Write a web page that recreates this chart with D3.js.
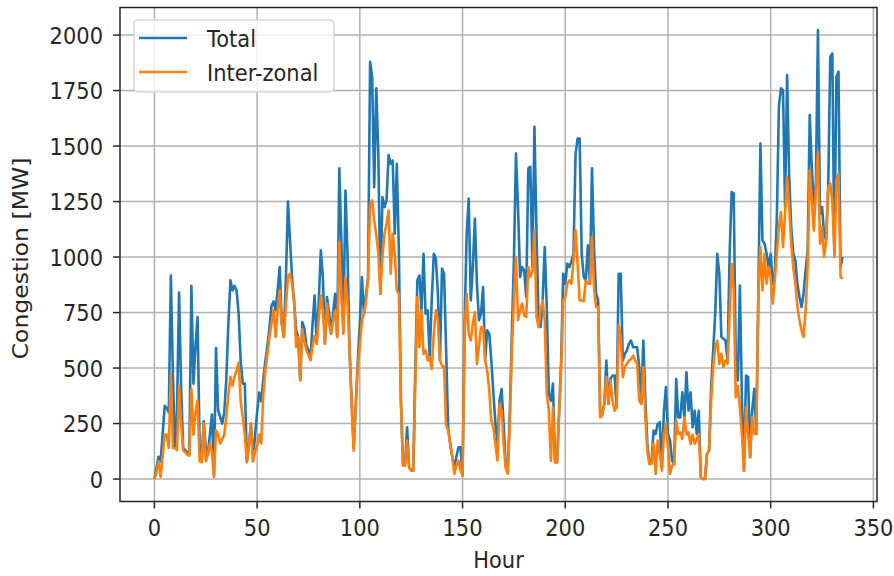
<!DOCTYPE html>
<html>
<head>
<meta charset="utf-8">
<script src="https://cdn.jsdelivr.net/npm/d3@7"></script>
<style>
  body { margin: 0; background: #fff; }
  svg text { font-family: "DejaVu Sans", sans-serif; font-size: 21px; fill: #262626; }
</style>
</head>
<body>
<svg id="chart"></svg>
<script>
// hourly congestion, 14 days (hour 0..335)
const total = [
    0, 50, 100, 80, 200, 330, 320, 300, 917, 470,
    140, 300, 840, 410, 140, 130, 120, 110, 870, 430,
    600, 730, 160, 80, 260, 140, 110, 200, 290, 20,
    590, 310, 280, 250, 300, 450, 700, 895, 850, 870,
    850, 745, 530, 430, 430, 80, 150, 250, 80, 200,
    300, 390, 350, 450, 530, 600, 680, 780, 800, 760,
    850, 955, 700, 640, 900, 1250, 1075, 910, 800, 670,
    640, 445, 707, 677, 600, 580, 540, 700, 827, 610,
    800, 1030, 910, 610, 820, 752, 655, 750, 835, 640,
    1400, 1075, 670, 1300, 1015, 580, 350, 140, 330, 530,
    700, 910, 745, 830, 910, 1880, 1810, 1315, 1760, 1465,
    835, 1270, 1225, 1255, 1460, 1420, 1435, 1105, 1420, 1030,
    353, 68, 68, 233, 53, 38, 38, 504, 895, 917,
    760, 1015, 745, 760, 550, 805, 1015, 993, 835, 534,
    948, 925, 580, 233, 158, 100, 53, 100, 143, 143,
    15, 700, 1105, 1263, 805, 955, 1173, 880, 715, 745,
    865, 534, 670, 655, 534, 390, 250, 158, 353, 405,
    250, 60, 30, 300, 655, 985, 1466, 1225, 910, 955,
    940, 820, 1400, 1406, 955, 1587, 1105, 730, 685, 805,
    1045, 775, 384, 353, 430, 83, 75, 300, 534, 925,
    880, 970, 955, 980, 1015, 1460, 1534, 1534, 1015, 910,
    895, 1053, 880, 1400, 1045, 835, 805, 286, 293, 338,
    534, 338, 451, 466, 466, 323, 925, 925, 534, 564,
    580, 610, 624, 594, 594, 594, 504, 338, 624, 353,
    150, 68, 83, 218, 203, 248, 256, 53, 300, 414,
    203, 173, 83, 68, 451, 278, 278, 391, 278, 481,
    308, 391, 233, 308, 203, 308, 8, 0, 0, 113,
    128, 414, 580, 745, 1015, 925, 640, 632, 624, 534,
    1015, 1293, 1286, 534, 444, 872, 353, 38, 466, 459,
    98, 308, 406, 203, 835, 1511, 1075, 1060, 1015, 955,
    1015, 880, 925, 1180, 1677, 1760, 1752, 1225, 1820, 1361,
    1135, 1015, 985, 880, 820, 775, 835, 940, 1030, 1640,
    1406, 1240, 1331, 2023, 1195, 1225, 1105, 1075, 1316, 1902,
    1917, 1015, 1812, 1835, 955, 1000
];

const interZonal = [
    0, 30, 80, 10, 100, 200, 200, 140, 475, 140,
    140, 130, 420, 250, 130, 120, 110, 105, 405, 200,
    300, 355, 80, 75, 250, 80, 110, 160, 120, 10,
    220, 200, 160, 180, 200, 280, 380, 460, 420, 460,
    490, 525, 350, 280, 200, 75, 150, 250, 80, 120,
    150, 200, 160, 380, 490, 560, 640, 700, 760, 640,
    760, 850, 700, 640, 780, 910, 925, 880, 800, 595,
    640, 445, 677, 620, 580, 560, 535, 600, 645, 610,
    720, 827, 760, 610, 790, 700, 655, 715, 760, 640,
    1068, 820, 655, 910, 800, 580, 350, 128, 330, 505,
    600, 715, 745, 800, 900, 1240, 1255, 1165, 1100, 1015,
    835, 1000, 1105, 1150, 1210, 925, 1105, 1015, 850, 835,
    353, 60, 60, 173, 53, 38, 38, 430, 820, 594,
    760, 564, 580, 534, 550, 496, 655, 760, 715, 534,
    511, 504, 240, 220, 158, 100, 23, 60, 83, 40,
    15, 655, 835, 655, 624, 700, 752, 519, 600, 684,
    684, 534, 489, 400, 263, 233, 158, 83, 338, 308,
    158, 50, 23, 250, 580, 805, 1000, 715, 760, 790,
    737, 730, 955, 910, 940, 1120, 730, 684, 760, 805,
    715, 384, 308, 83, 323, 75, 75, 300, 500, 805,
    820, 880, 895, 880, 985, 1120, 970, 805, 805, 800,
    895, 880, 880, 1090, 865, 775, 775, 278, 286, 338,
    459, 338, 444, 353, 308, 323, 692, 640, 459, 504,
    519, 534, 540, 556, 534, 519, 353, 338, 504, 278,
    120, 68, 68, 158, 23, 173, 113, 38, 200, 248,
    143, 23, 60, 68, 263, 203, 210, 180, 278, 200,
    210, 158, 200, 158, 180, 203, 8, 0, 0, 113,
    128, 353, 504, 594, 624, 519, 564, 504, 534, 520,
    745, 970, 850, 368, 420, 323, 200, 38, 323, 203,
    98, 278, 203, 203, 835, 1045, 850, 1015, 880, 955,
    910, 790, 900, 1015, 1135, 1203, 1045, 1195, 1361, 1225,
    1060, 955, 880, 775, 715, 670, 640, 760, 955, 1391,
    1255, 1120, 1301, 1474, 1060, 1135, 1000, 1075, 1316, 1331,
    1255, 1000, 1346, 1376, 910, 902
];

const hours = total.map((d, i) => i);
const xTicks = [0, 50, 100, 150, 200, 250, 300, 350];
const yTicks = [0, 250, 500, 750, 1000, 1250, 1500, 1750, 2000];
const seriesNames = ["Total", "Inter-zonal"];

const W = 894, H = 576;
const margin = { top: 7.5, right: 17, bottom: 74.5, left: 120 },
      width = W - margin.left - margin.right,
      height = H - margin.top - margin.bottom;

// glyphs in the figure are a little taller than wide
const SY = 1.12;

const svg = d3.select("#chart")
    .attr("width", W)
    .attr("height", H);

const g = svg.append("g")
    .attr("transform", `translate(${margin.left},${margin.top})`);

// matplotlib-style 5% padding around the data
const xPad = 0.05 * (d3.max(hours) - d3.min(hours));
const x = d3.scaleLinear()
    .domain([d3.min(hours) - xPad, d3.max(hours) + xPad])
    .range([0, width]);

const yMin = Math.min(d3.min(total), d3.min(interZonal));
const yMax = Math.max(d3.max(total), d3.max(interZonal));
const yPad = 0.05 * (yMax - yMin);
const y = d3.scaleLinear()
    .domain([yMin - yPad, yMax + yPad])
    .range([height, 0]);

function label(parent, px, py, str, anchor, rotate) {
    return parent.append("text")
        .attr("transform", `translate(${px},${py}) scale(1,${SY})` + (rotate ? " rotate(-90)" : ""))
        .attr("text-anchor", anchor)
        .text(str);
}

// grid
g.append("g").selectAll("line")
    .data(xTicks)
    .join("line")
    .attr("x1", d => x(d)).attr("x2", d => x(d))
    .attr("y1", 0).attr("y2", height)
    .style("stroke", "#b0b0b0")
    .style("stroke-width", 1.5);

g.append("g").selectAll("line")
    .data(yTicks)
    .join("line")
    .attr("x1", 0).attr("x2", width)
    .attr("y1", d => y(d)).attr("y2", d => y(d))
    .style("stroke", "#b0b0b0")
    .style("stroke-width", 1.5);

// series
const line = d3.line()
    .x((d, i) => x(hours[i]))
    .y(d => y(d));

g.append("path")
    .datum(total)
    .attr("d", line)
    .style("fill", "none")
    .style("stroke", "#1f77b4")
    .style("stroke-width", 2.6)
    .style("stroke-linejoin", "round");

g.append("path")
    .datum(interZonal)
    .attr("d", line)
    .style("fill", "none")
    .style("stroke", "#ff7f0e")
    .style("stroke-width", 2.6)
    .style("stroke-linejoin", "round");

// frame
g.append("rect")
    .attr("width", width)
    .attr("height", height)
    .style("fill", "none")
    .style("stroke", "#262626")
    .style("stroke-width", 1.5);

// ticks + labels
g.append("g").selectAll("line")
    .data(xTicks)
    .join("line")
    .attr("x1", d => x(d)).attr("x2", d => x(d))
    .attr("y1", height).attr("y2", height + 7)
    .style("stroke", "#262626")
    .style("stroke-width", 1.5);

xTicks.forEach(t => label(g, x(t), height + 34.5, t, "middle"));

g.append("g").selectAll("line")
    .data(yTicks)
    .join("line")
    .attr("x1", -7).attr("x2", 0)
    .attr("y1", d => y(d)).attr("y2", d => y(d))
    .style("stroke", "#262626")
    .style("stroke-width", 1.5);

yTicks.forEach(t => label(g, -17, y(t) + 8.6, t, "end"));

// axis titles
label(g, width / 2, height + 66, "Hour", "middle");
label(g, -92, height / 2 + 4, "Congestion [MW]", "middle", true);

// legend
const legend = svg.append("g")
    .attr("transform", "translate(134,20)");

legend.append("rect")
    .attr("width", 200)
    .attr("height", 72)
    .attr("rx", 4)
    .style("fill", "#fff")
    .style("fill-opacity", 0.8)
    .style("stroke", "#d6d6d6")
    .style("stroke-width", 1.5);

[["#1f77b4", 18], ["#ff7f0e", 52]].forEach(([c, ly], i) => {
    legend.append("line")
        .attr("x1", 5).attr("x2", 53)
        .attr("y1", ly).attr("y2", ly)
        .style("stroke", c)
        .style("stroke-width", 2.6);
    label(legend, 73, ly + 8.6, seriesNames[i], "start");
});
</script>
</body>
</html>
